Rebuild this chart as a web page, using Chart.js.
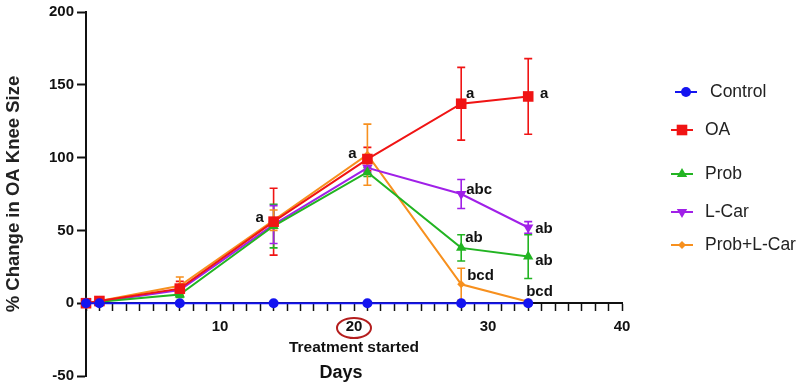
<!DOCTYPE html>
<html>
<head>
<meta charset="utf-8">
<script src="https://cdn.jsdelivr.net/npm/chart.js@4.4.1/dist/chart.umd.min.js"></script>
<style>
  html, body { margin: 0; padding: 0; background: #fff; }
  #wrap { width: 800px; height: 388px; }
</style>
</head>
<body>
<div id="wrap"><canvas id="kneeChart"></canvas></div>
<script>
// data
const days = [0, 1, 7, 14, 21, 28, 33];

const controlVals = [0, 0, 0, 0, 0, 0, 0];
const controlErr  = [0, 0, 0, 0, 0, 0, 0];

const oaVals = [0, 1.5, 10, 56, 99, 137, 142];
const oaErr  = [1, 2, 5, 23, 8, 25, 26];

const probVals = [0, 1, 6, 53, 90, 38, 32];
const probErr  = [0, 1, 2, 15, 3, 9, 15];

const lcarVals = [0, 1, 9, 54, 93, 75, 52];
const lcarErr  = [0, 1, 2, 13, 3, 10, 4];

const comboVals = [0, 1.5, 12, 57, 102, 13, 1];
const comboErr  = [0, 1, 6, 7, 21, 11, 1];

// significance letters per point
const oaLetters    = ['', '', '', 'a', 'a', 'a', 'a'];
const probLetters  = ['', '', '', '', '', 'ab', 'ab'];
const lcarLetters  = ['', '', '', '', '', 'abc', 'ab'];
const comboLetters = ['', '', '', '', '', 'bcd', 'bcd'];

const xTickLabels = [10, 20, 30, 40];
const yTicks = [-50, 0, 50, 100, 150, 200];

const FONT = '"Liberation Sans", Arial, sans-serif';

function mkSet(label, vals, err, letters, color, style, radius, rotation) {
    return {
        label: label,
        data: days.map((d, i) => ({ x: d, y: vals[i] })),
        errors: err,
        letters: letters,
        borderColor: color,
        backgroundColor: color,
        borderWidth: 2,
        pointStyle: style,
        pointRadius: radius,
        pointHoverRadius: radius,
        pointRotation: rotation || 0,
        pointBorderWidth: 0,
        tension: 0,
        clip: false
    };
}

const datasets = [
    mkSet('Control', controlVals, controlErr, null, '#1414f0', 'circle', 5),
    mkSet('OA', oaVals, oaErr, oaLetters, '#f01414', 'rect', 7.5),
    mkSet('Prob', probVals, probErr, probLetters, '#22b422', 'triangle', 6),
    mkSet('L-Car', lcarVals, lcarErr, lcarLetters, '#a020e8', 'triangle', 6, 180),
    mkSet('Prob+L-Car', comboVals, comboErr, comboLetters, '#f7901e', 'rectRot', 4)
];

// error bars
const errorBars = {
    id: 'errorBars',
    beforeDatasetsDraw(chart) {
        const ctx = chart.ctx;
        const xs = chart.scales.x, ys = chart.scales.y;
        ctx.save();
        ctx.lineWidth = 1.6;
        chart.data.datasets.forEach(ds => {
            ctx.strokeStyle = ds.borderColor;
            ds.data.forEach((p, i) => {
                const e = ds.errors[i];
                if (!e) return;
                const x = xs.getPixelForValue(p.x);
                const yt = ys.getPixelForValue(p.y + e);
                const yb = ys.getPixelForValue(p.y - e);
                ctx.beginPath();
                ctx.moveTo(x, yt); ctx.lineTo(x, yb);
                ctx.moveTo(x - 4, yt); ctx.lineTo(x + 4, yt);
                ctx.moveTo(x - 4, yb); ctx.lineTo(x + 4, yb);
                ctx.stroke();
            });
        });
        ctx.restore();
    }
};

// offsets of the letters from their points [dx, dy, align]
const letterPos = {
    1: { 3: [-14, -4, 'center'], 4: [-15, -5, 'center'], 5: [9, -10, 'center'], 6: [16, -3, 'center'] },
    2: { 5: [4, -10, 'left'], 6: [7, 4, 'left'] },
    3: { 5: [5, -4, 'left'], 6: [7, 1, 'left'] },
    4: { 5: [6, -8, 'left'], 6: [-2, -10, 'left'] }
};

const letters = {
    id: 'letters',
    afterDatasetsDraw(chart) {
        const ctx = chart.ctx;
        ctx.save();
        ctx.font = 'bold 15px ' + FONT;
        ctx.fillStyle = '#111';
        ctx.textBaseline = 'middle';
        chart.data.datasets.forEach((ds, di) => {
            if (!ds.letters) return;
            const meta = chart.getDatasetMeta(di);
            ds.letters.forEach((t, i) => {
                if (!t) return;
                const o = letterPos[di][i];
                const pt = meta.data[i];
                ctx.textAlign = o[2];
                ctx.fillText(t, pt.x + o[0], pt.y + o[1]);
            });
        });
        ctx.restore();
    }
};

// x axis caption, ellipse round 20, custom legend
const extras = {
    id: 'extras',
    afterDraw(chart) {
        const ctx = chart.ctx;
        const xs = chart.scales.x;
        const x20 = xs.getPixelForValue(20);
        ctx.save();
        ctx.strokeStyle = '#b41e1e';
        ctx.lineWidth = 2;
        ctx.beginPath();
        ctx.ellipse(x20, 328, 17, 10, 0, 0, Math.PI * 2);
        ctx.stroke();

        ctx.fillStyle = '#111';
        ctx.textAlign = 'center';
        ctx.textBaseline = 'middle';
        ctx.font = 'bold 15.5px ' + FONT;
        ctx.fillText('Treatment started', x20, 348);
        ctx.font = 'bold 18px ' + FONT;
        ctx.fillText('Days', 341, 373);

        // legend
        const rowY = [92, 130, 174, 212, 245];
        ctx.font = '17.5px ' + FONT;
        ctx.textAlign = 'left';
        chart.data.datasets.forEach((ds, i) => {
            const y = rowY[i];
            const lx = i === 0 ? 675 : 671;
            ctx.strokeStyle = ds.borderColor;
            ctx.fillStyle = ds.backgroundColor;
            ctx.lineWidth = 2;
            ctx.beginPath();
            ctx.moveTo(lx, y); ctx.lineTo(lx + 22, y);
            ctx.stroke();
            Chart.helpers.drawPoint(ctx, {
                pointStyle: ds.pointStyle,
                rotation: ds.pointRotation,
                radius: ds.pointRadius,
                borderWidth: 0
            }, lx + 11, y);
            ctx.fillStyle = '#222';
            ctx.fillText(ds.label, i === 0 ? 710 : 705, y);
        });
        ctx.restore();
    }
};

new Chart(document.getElementById('kneeChart'), {
    type: 'line',
    data: { datasets: datasets },
    plugins: [errorBars, letters, extras],
    options: {
        responsive: true,
        maintainAspectRatio: false,
        animation: false,
        layout: { padding: { top: 10, right: 178, bottom: 9, left: 0 } },
        plugins: {
            legend: { display: false },
            tooltip: { enabled: false }
        },
        scales: {
            x: {
                type: 'linear',
                position: { y: 0 },
                min: 0,
                max: 40,
                border: { color: '#111', width: 2 },
                grid: { drawOnChartArea: false, drawTicks: true, tickLength: 7, color: '#111', tickWidth: 1.5 },
                ticks: {
                    stepSize: 1,
                    autoSkip: false,
                    maxRotation: 0,
                    padding: 8,
                    color: '#111',
                    font: { family: FONT, size: 15, weight: 'bold' },
                    callback: v => xTickLabels.includes(v) ? String(v) : ''
                }
            },
            y: {
                position: 'left',
                min: -50,
                max: 200,
                afterFit: s => { s.width = 86; },
                afterBuildTicks: s => { s.ticks = yTicks.map(v => ({ value: v })); },
                border: { color: '#111', width: 2 },
                grid: { drawOnChartArea: false, drawTicks: true, tickLength: 9, color: '#111', tickWidth: 2 },
                ticks: {
                    padding: 3,
                    color: '#111',
                    font: { family: FONT, size: 15, weight: 'bold' }
                },
                title: {
                    display: true,
                    text: '% Change in OA Knee Size',
                    color: '#222',
                    font: { family: FONT, size: 18.5, weight: 'bold' },
                    padding: { top: 3, bottom: 0 }
                }
            }
        }
    }
});
</script>
</body>
</html>
